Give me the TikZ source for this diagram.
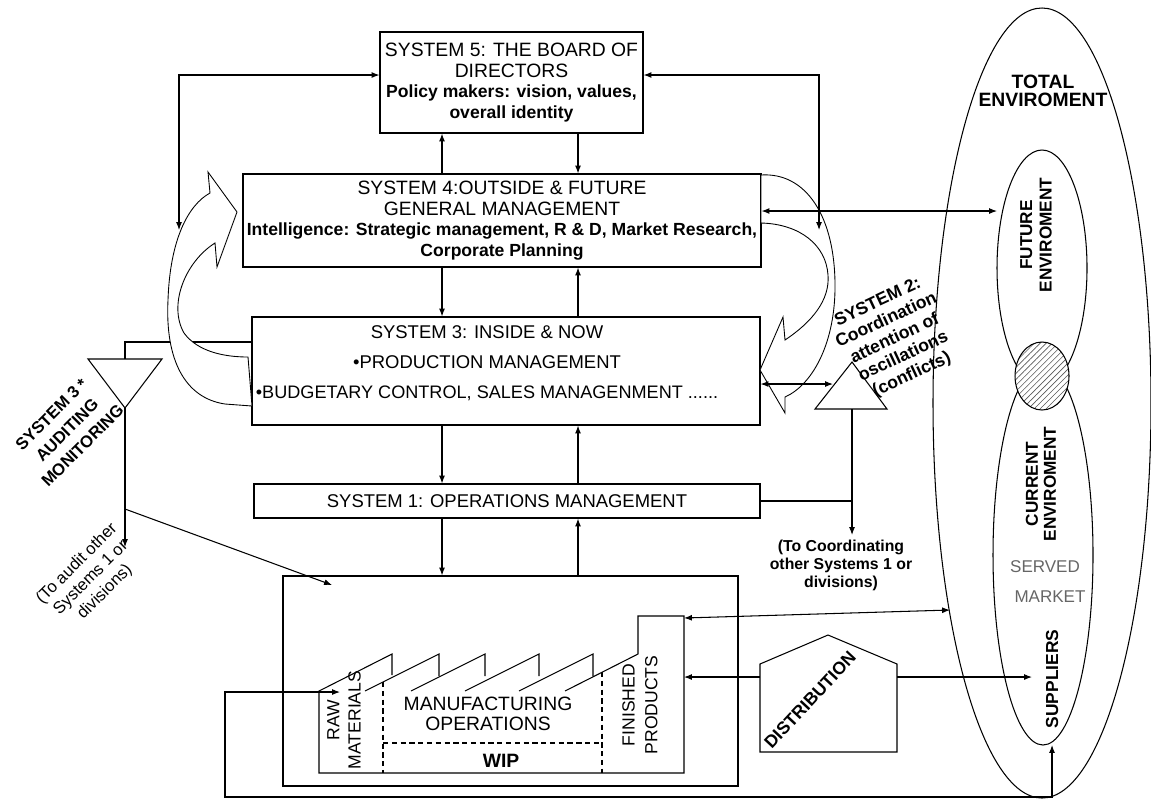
\documentclass[tikz,border=0pt]{standalone}
\usepackage{fontspec}
\setmainfont{Liberation Sans}
\usetikzlibrary{patterns.meta,arrows.meta}
\newcommand{\pxl}{0.02cm}

\begin{document}
\begin{tikzpicture}[x=0.02cm,y=-0.02cm,>={Latex[length=4.5pt,width=3.4pt]},line width=0.6pt,
  box/.style={draw,inner sep=0pt,align=center},
  rot/.style={align=center,inner sep=0pt},
  arrowblock/.style={draw,fill=white,line width=0.5pt}]
\useasboundingbox (0,0) rectangle (1151,799);

% the management boxes
\node[box,minimum width=263*\pxl,minimum height=101*\pxl,font=\fontsize{11}{11.8}\selectfont] (s5) at (511.5,82.5)
  {SYSTEM 5: THE BOARD OF\\DIRECTORS\\{\bfseries\fontsize{10}{11.8}\selectfont Policy makers: vision, values,}\\{\bfseries\fontsize{10}{11.8}\selectfont overall identity}};
\node[box,minimum width=518*\pxl,minimum height=93*\pxl,font=\fontsize{11}{11.8}\selectfont] (s4) at (502,220.5)
  {SYSTEM 4:OUTSIDE \& FUTURE\\GENERAL MANAGEMENT\\{\bfseries\fontsize{10}{11.8}\selectfont Intelligence: Strategic management, R \& D, Market Research,}\\{\bfseries\fontsize{10}{11.8}\selectfont Corporate Planning}};
\node[box,minimum width=508*\pxl,minimum height=108*\pxl] (s3) at (506,371) {};
\node[rot,font=\fontsize{10.5}{17}\selectfont] (s3txt) at (487,363)
  {SYSTEM 3: INSIDE \& NOW\\•PRODUCTION MANAGEMENT\\{\fontsize{10.3}{17}\selectfont •BUDGETARY CONTROL, SALES MANAGENMENT ......}};
\node[box,minimum width=506*\pxl,minimum height=34*\pxl,font=\fontsize{10.5}{12}\selectfont] (s1) at (507,501)
  {SYSTEM 1: OPERATIONS MANAGEMENT};
\node[box,minimum width=455*\pxl,minimum height=210*\pxl] (plant) at (510.5,681) {};

% S3* auditing channel (under the turning arrow)
\draw (88,359) -- (162,359) -- (125,408) -- cycle;
\coordinate (s3sK) at (125,342);
\coordinate (s3sT) at (125,359);
\coordinate (s3sB) at (125,408);
\coordinate (s3sJ) at (125,509);
\coordinate (s3sOut) at (125,547);
\coordinate (plantIn) at (332,585);
\draw (s3.west |- s3sK) -- (s3sK) -- (s3sT);

% turning arrows
\filldraw[arrowblock] (252,406) -- (225,404) .. controls (185,398) and (165,360) .. (168,300)
  .. controls (170,240) and (188,205) .. (210,193) -- (208,172) -- (237,212) -- (217,267) -- (215,243)
  .. controls (185,262) and (168,305) .. (184,333) .. controls (198,352) and (225,357) .. (248,357) -- cycle;
\filldraw[arrowblock] (761,175) .. controls (805,172) and (836,215) .. (835,290)
  .. controls (834,345) and (812,385) .. (785,397) -- (785,413) -- (760,370) -- (783,317) -- (785,340)
  .. controls (812,322) and (830,300) .. (828,275) .. controls (826,245) and (800,224) .. (761,223) -- cycle;

% vertical links
\coordinate (cA) at (442,0);
\coordinate (cB) at (578,0);
\draw[->] (s5.south -| cB) -- (s4.north -| cB);
\draw[->] (s4.north -| cA) -- (s5.south -| cA);
\foreach \up/\lo in {s4/s3,s3/s1,s1/plant} {
\draw[->] (\up.south -| cA) -- (\lo.north -| cA);
\draw[->] (\lo.north -| cB) -- (\up.south -| cB);
}

% S5 side loops
\coordinate (lpT) at (179,75);
\coordinate (lpB) at (179,230);
\coordinate (rpT) at (819,75);
\coordinate (rpB) at (819,230);
\draw[<->] (lpB) -- (lpT) -- (lpT -| s5.west);
\draw[<->] (rpB) -- (rpT) -- (rpT -| s5.east);

\draw[->] (s3sB) -- (s3sOut);
\draw[->] (s3sJ) -- (plantIn);

% S2 coordination
\draw (815,409) -- (852,362) -- (887,409) -- cycle;
\coordinate (s2L) at (833,384);
\coordinate (s2B) at (852,409);
\coordinate (s2Out) at (852,535);
\draw[<->] (s3.east |- s2L) -- (s2L);
\draw[->] (s2B) -- (s2Out);
\draw (s1.east) -- (s1.east -| s2B);

% environment
\draw (1042,403) ellipse [x radius=109, y radius=395];
\draw (1042,268) ellipse [x radius=45, y radius=118];
\draw (1043,555) ellipse [x radius=50, y radius=190];
\fill[white] (1042,376) ellipse [x radius=27, y radius=34];
\draw[pattern={Lines[angle=45,distance=2.4pt,line width=0.35pt]},pattern color=black!65] (1042,376) ellipse [x radius=27, y radius=34];
\coordinate (futW) at (997,211);
\coordinate (totW) at (950,610);
\coordinate (supW) at (1032,677);
\coordinate (supS) at (1052,745);
\draw[<->] (s4.east |- futW) -- (futW);

% plant
\draw (565,691) -- (638,654) -- (638,616) -- (684,616) -- (684,773) -- (319,773) -- (319,691) -- (392,654) -- (392,675);
\foreach \x in {365,411,465,519} {
\draw (\x,691) -- ++(74,-37) -- ++(0,22);
}
\draw[dash pattern=on 3pt off 2pt] (383,682) -- (383,773);
\draw[dash pattern=on 3pt off 2pt] (602,672) -- (602,773);
\draw[dash pattern=on 3pt off 2pt] (383,743) -- (602,743);
\coordinate (fpTop) at (684,618);
\coordinate (fpMid) at (684,677);
\coordinate (rawIn) at (340,692);
\node[rot,rotate=90,font=\fontsize{10}{12}\selectfont] (raw) at (344,720) {RAW\\MATERIALS};
\node[rot,font=\fontsize{11}{11.4}\selectfont] (mfg) at (488,714) {MANUFACTURING\\OPERATIONS};
\node[font=\bfseries\fontsize{11}{12}\selectfont] (wip) at (501,761) {WIP};
\node[rot,rotate=90,font=\fontsize{10}{13}\selectfont] (fin) at (640,705) {FINISHED\\PRODUCTS};

% distribution
\draw (760,752) -- (760,664) -- (828,635) -- (897,664) -- (897,752) -- cycle;
\coordinate (dL) at (760,677);
\coordinate (dR) at (897,677);
\node[font=\bfseries\fontsize{10}{12}\selectfont,rotate=47,inner sep=0pt] (dist) at (810,700) {DISTRIBUTION};

\draw[<->] (fpTop) -- (totW);
\draw[->] (dL) -- (fpMid);
\draw[->] (dR) -- (supW);
\draw[<->] (rawIn) -| (225,797) -| (supS);

% texts
\node[rot,rotate=25,font=\bfseries\fontsize{10}{11.4}\selectfont] (s2txt) at (895,339)
  {SYSTEM 2:\\Coordination\\attention of\\oscillations\\(conflicts)};
\node[rot,font=\bfseries\fontsize{9}{10.2}\selectfont] (s2note) at (841,565)
  {(To Coordinating\\other Systems 1 or\\divisions)};
\node[rot,rotate=45,font=\bfseries\fontsize{9.5}{12.5}\selectfont] (s3stxt) at (67,430)
  {SYSTEM 3 *\\AUDITING\\MONITORING};
\node[rot,rotate=45,font=\fontsize{9.5}{11.3}\selectfont] (s3snote) at (91,578)
  {(To audit other\\Systems 1 or\\divisions)};
\node[rot,font=\bfseries\fontsize{11}{10.3}\selectfont] (tot) at (1043,91) {TOTAL\\ENVIROMENT};
\node[rot,rotate=90,font=\bfseries\fontsize{9.8}{11}\selectfont] (futtxt) at (1036,235) {FUTURE\\ENVIROMENT};
\node[rot,rotate=90,font=\bfseries\fontsize{9.8}{10.3}\selectfont] (curtxt) at (1041,484) {CURRENT\\ENVIROMENT};
\node[text=black!60,font=\fontsize{9.7}{12}\selectfont] (served) at (1045,567) {SERVED};
\node[text=black!60,font=\fontsize{9.7}{12}\selectfont] (market) at (1050,597) {MARKET};
\node[rotate=90,font=\bfseries\fontsize{9.9}{12}\selectfont] (sup) at (1052,679) {SUPPLIERS};
\end{tikzpicture}
\end{document}
